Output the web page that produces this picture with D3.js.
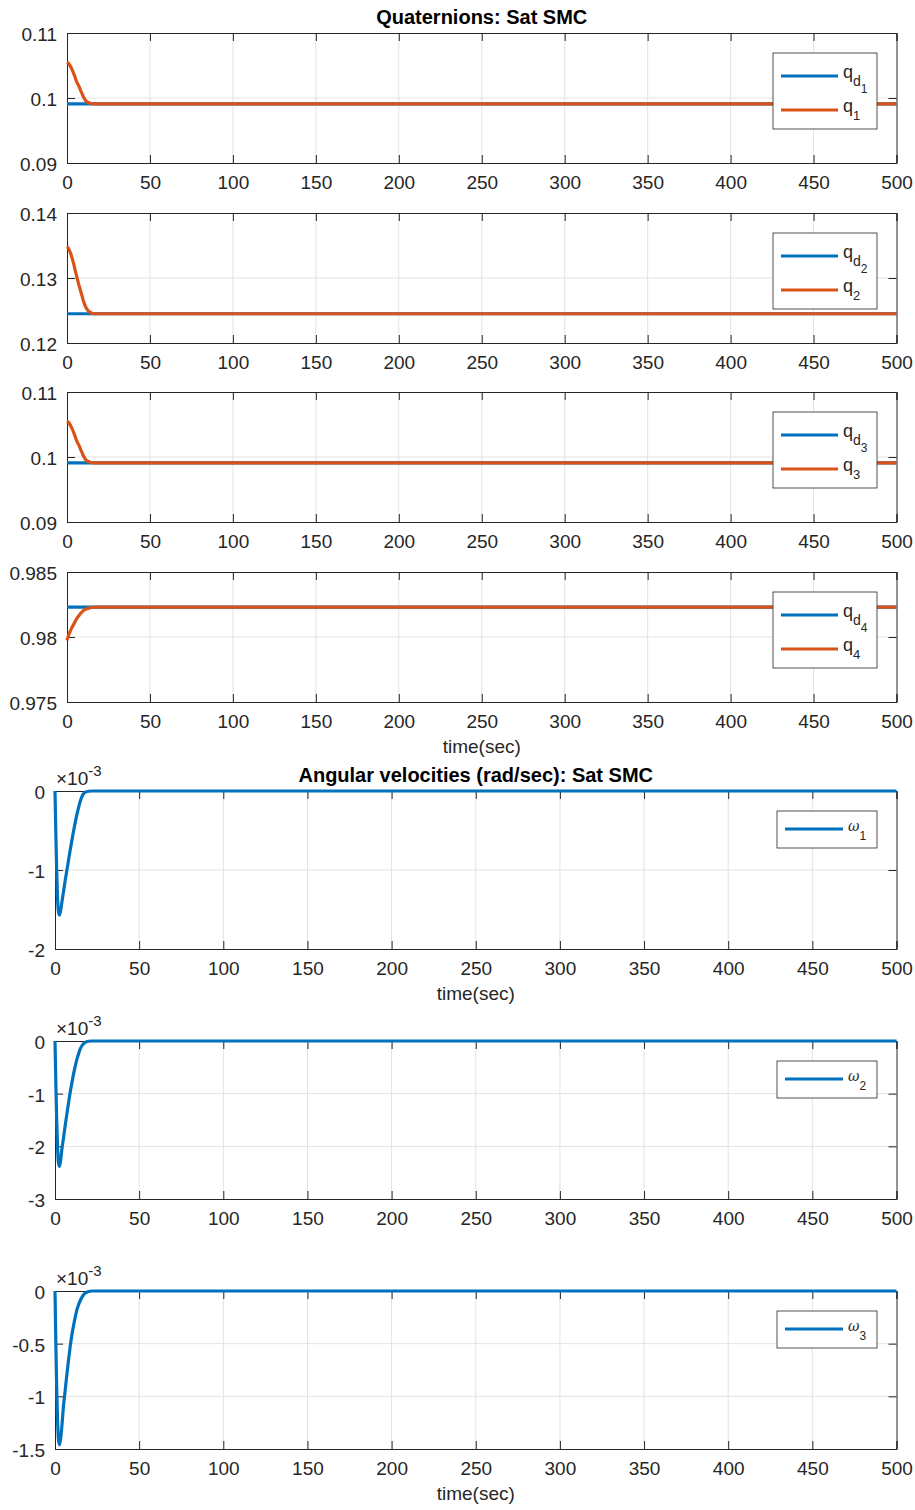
<!DOCTYPE html>
<html><head><meta charset="utf-8">
<script src="https://cdn.jsdelivr.net/npm/d3@7"></script>
<style>
body{margin:0;background:#fff;}
svg{display:block;font-family:"Liberation Sans",Arial,Helvetica,sans-serif;}
</style></head>
<body><svg id="c" width="915" height="1510"></svg>
<script>
// ---------- data ----------
const xTicks = [0,50,100,150,200,250,300,350,400,450,500];
const tQ = [0,1,2,3,4,5,6,7,8,9,10,11,12,13,14,16,18,20,500];
const tD = [0,500];
const q1 = [0.1055,0.1053,0.1049,0.1044,0.1038,0.1031,0.1024,0.1019,0.1013,0.1007,0.1001,0.0997,0.0994,0.0993,0.0992,0.0991,0.0991,0.0991,0.0991];
const qd1 = [0.0991,0.0991];
const q2 = [0.1348,0.1345,0.1339,0.1331,0.1322,0.1311,0.1301,0.1291,0.1282,0.1273,0.1264,0.1257,0.1252,0.1249,0.1247,0.1245,0.1245,0.1245,0.1245];
const qd2 = [0.1245,0.1245];
const q3 = [0.1055,0.1053,0.1049,0.1044,0.1038,0.1031,0.1024,0.1019,0.1013,0.1007,0.1001,0.0997,0.0994,0.0993,0.0992,0.0991,0.0991,0.0991,0.0991];
const qd3 = [0.0991,0.0991];
const q4 = [0.97974,0.98015,0.98046,0.98074,0.98097,0.98122,0.98143,0.98161,0.98179,0.98192,0.98204,0.98212,0.98217,0.98222,0.98225,0.98229,0.9823,0.9823,0.9823];
const qd4 = [0.9823,0.9823];
const tW = [0,0.5,1,1.5,2,2.6,3.2,4,5,6,7,8,9,10,11,12,13,14,15,16,17,18,20,22,500];
// angular velocities in units of 1e-3 rad/sec
const w1 = [0,-0.55,-1.0,-1.35,-1.52,-1.57,-1.53,-1.42,-1.28,-1.14,-1.01,-0.88,-0.75,-0.63,-0.51,-0.40,-0.30,-0.21,-0.13,-0.07,-0.035,-0.015,-0.003,0,0];
const w2 = [0,-0.8,-1.5,-2.0,-2.3,-2.38,-2.3,-2.08,-1.85,-1.62,-1.4,-1.18,-0.98,-0.8,-0.63,-0.48,-0.35,-0.24,-0.15,-0.09,-0.05,-0.025,-0.005,0,0];
const w3 = [0,-0.5,-0.92,-1.22,-1.4,-1.46,-1.42,-1.3,-1.1,-0.95,-0.8,-0.66,-0.53,-0.42,-0.33,-0.25,-0.18,-0.13,-0.09,-0.06,-0.035,-0.02,-0.005,0,0];
const yTicksQ1 = [0.09,0.1,0.11];
const yTicksQ2 = [0.12,0.13,0.14];
const yTicksQ3 = [0.09,0.1,0.11];
const yTicksQ4 = [0.975,0.98,0.985];
const yTicksW1 = [-2,-1,0];
const yTicksW2 = [-3,-2,-1,0];
const yTicksW3 = [-1.5,-1,-0.5,0];
const titles = ["Quaternions: Sat SMC","Angular velocities (rad/sec): Sat SMC"];
const xLabel = "time(sec)";

const BLUE = "#0072BD", ORANGE = "#D95319", INK = "#262626", GRID = "#e3e3e3";
const svg = d3.select("#c");

function panel(o){
  const x = d3.scaleLinear().domain([0,500]).range([o.left,o.right]);
  const y = d3.scaleLinear().domain([o.yTicks[0], o.yTicks[o.yTicks.length-1]]).range([o.top+o.h,o.top]);
  const g = svg.append("g");
  const T = 8;
  g.selectAll(".gx").data(xTicks.slice(1,-1)).enter().append("line")
    .attr("x1",d=>x(d)).attr("x2",d=>x(d)).attr("y1",o.top).attr("y2",o.top+o.h)
    .attr("stroke",GRID).attr("stroke-width",1);
  g.selectAll(".gy").data(o.yTicks.slice(1,-1)).enter().append("line")
    .attr("x1",o.left).attr("x2",o.right).attr("y1",d=>y(d)).attr("y2",d=>y(d))
    .attr("stroke",GRID).attr("stroke-width",1);
  const ax = g.append("g").attr("transform",`translate(0,${o.top+o.h})`)
    .call(d3.axisBottom(x).tickValues(xTicks).tickSize(-T).tickPadding(13).tickFormat(d3.format("d")));
  const ay = g.append("g").attr("transform",`translate(${o.left},0)`)
    .call(d3.axisLeft(y).tickValues(o.yTicks).tickSize(-T).tickPadding(10).tickFormat(d=>String(d)));
  const axt = g.append("g").attr("transform",`translate(0,${o.top})`)
    .call(d3.axisTop(x).tickValues(xTicks).tickSize(-T).tickFormat(""));
  const ayr = g.append("g").attr("transform",`translate(${o.right},0)`)
    .call(d3.axisRight(y).tickValues(o.yTicks).tickSize(-T).tickFormat(""));
  [ax,ay,axt,ayr].forEach(a=>{
    a.selectAll("path").attr("stroke",INK).attr("stroke-width",1);
    a.selectAll("line").attr("stroke",INK).attr("stroke-width",1);
    a.selectAll("text").attr("fill",INK).style("font-size","19px").style("font-family","'Liberation Sans',Arial,sans-serif");
  });
  ay.selectAll("text").attr("dy","0.4em");
  o.series.forEach(s=>{
    const pts = s.t.map((t,i)=>[t,s.v[i]]);
    g.append("path").datum(pts)
      .attr("d",d3.line().x(d=>x(d[0])).y(d=>y(d[1])).curve(d3.curveMonotoneX))
      .attr("fill","none").attr("stroke",s.c).attr("stroke-width",3.2).attr("stroke-linejoin","round");
  });
  const L = o.legend;
  const lg = g.append("g");
  lg.append("rect").attr("x",L.x).attr("y",o.top+20).attr("width",L.w).attr("height",L.h)
    .attr("fill","#fff").attr("stroke",INK).attr("stroke-width",0.8);
  L.items.forEach((it,i)=>{
    const yy = o.top+20+L.rows[i];
    lg.append("line").attr("x1",L.x+L.l0).attr("x2",L.x+L.l1).attr("y1",yy).attr("y2",yy)
      .attr("stroke",it.c).attr("stroke-width",3.2);
    const tx = lg.append("text").attr("x",L.x+L.l1+5).attr("y",yy+(it.omega?1:0)).attr("fill",INK);
    it.parts.forEach(p=>{
      tx.append("tspan").text(p.s).style("font-size",p.fs+"px").attr("dy",p.dy)
        .style("font-style",p.it?"italic":"normal").style("font-family",p.ff||null);
    });
  });
  if(o.title) svg.append("text").attr("x",(o.left+o.right)/2).attr("y",o.top-9).attr("text-anchor","middle")
    .attr("fill","#000").style("font-weight","bold").style("font-size","20px").text(o.title);
  if(o.xlabel) svg.append("text").attr("x",(o.left+o.right)/2).attr("y",o.top+o.h+51).attr("text-anchor","middle")
    .attr("fill",INK).style("font-size","19px").text(o.xlabel);
  if(o.expo){
    const e = svg.append("text").attr("x",o.left+1).attr("y",o.top-6).attr("fill",INK);
    e.append("tspan").text("\u00d710").style("font-size","19px");
    e.append("tspan").text("-3").style("font-size","15px").attr("dy",-9);
  }
}

function qLegend(n){
  return {x:773,w:104,h:76,l0:8,l1:65,rows:[23,57],items:[
    {c:BLUE,parts:[{s:"q",fs:18,dy:"0.1em"},{s:"d",fs:14,dy:"0.55em"},{s:String(n),fs:12,dy:"0.6em"}]},
    {c:ORANGE,parts:[{s:"q",fs:18,dy:"0.1em"},{s:String(n),fs:13,dy:"0.65em"}]}
  ]};
}
function wLegend(n){
  return {x:777,w:100,h:37,l0:8,l1:66,rows:[18],items:[
    {c:BLUE,omega:true,parts:[{s:"\u03c9",fs:14,dy:"0.1em",it:true,ff:"'DejaVu Serif',serif"},{s:String(n),fs:12,dy:"0.7em"}]}
  ]};
}

const qs = [[q1,qd1,yTicksQ1],[q2,qd2,yTicksQ2],[q3,qd3,yTicksQ3],[q4,qd4,yTicksQ4]];
const qTops = [33,213,392,572];
qs.forEach((q,i)=>{
  panel({left:67,right:896.5,top:qTops[i],h:130,yTicks:q[2],
    series:[{t:tD,v:q[1],c:BLUE},{t:tQ,v:q[0],c:ORANGE}],
    legend:qLegend(i+1),title:i===0?titles[0]:null,xlabel:i===3?xLabel:null});
});
const ws = [[w1,yTicksW1],[w2,yTicksW2],[w3,yTicksW3]];
const wTops = [791,1041,1291];
ws.forEach((w,i)=>{
  panel({left:55,right:896.5,top:wTops[i],h:158,yTicks:w[1],
    series:[{t:tW,v:w[0],c:BLUE}],
    legend:wLegend(i+1),title:i===0?titles[1]:null,xlabel:i!==1?xLabel:null,expo:true});
});
</script></body></html>
